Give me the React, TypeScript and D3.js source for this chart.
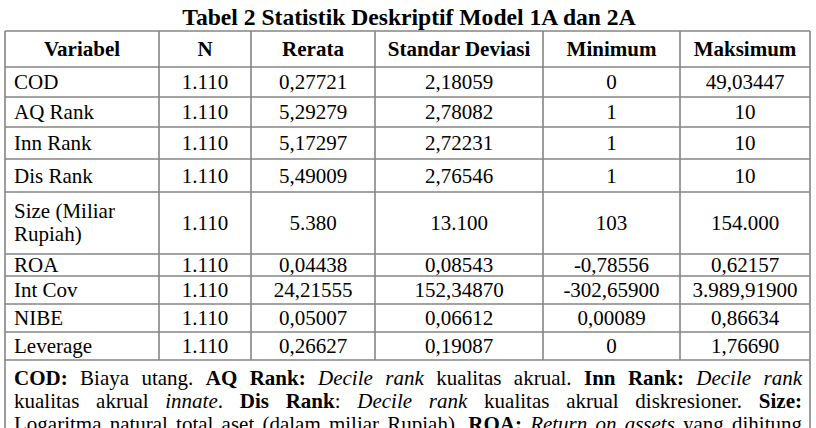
import React, { useEffect, useRef } from "react";
import * as d3 from "d3";

const title = "Tabel 2 Statistik Deskriptif Model 1A dan 2A";
const headers = ["Variabel", "N", "Rerata", "Standar Deviasi", "Minimum", "Maksimum"];
const variables = [["COD"], ["AQ Rank"], ["Inn Rank"], ["Dis Rank"], ["Size (Miliar", "Rupiah)"], ["ROA"], ["Int Cov"], ["NIBE"], ["Leverage"]];
const nValues = ["1.110", "1.110", "1.110", "1.110", "1.110", "1.110", "1.110", "1.110", "1.110"];
const means = ["0,27721", "5,29279", "5,17297", "5,49009", "5.380", "0,04438", "24,21555", "0,05007", "0,26627"];
const sds = ["2,18059", "2,78082", "2,72231", "2,76546", "13.100", "0,08543", "152,34870", "0,06612", "0,19087"];
const mins = ["0", "1", "1", "1", "103", "-0,78556", "-302,65900", "0,00089", "0"];
const maxs = ["49,03447", "10", "10", "10", "154.000", "0,62157", "3.989,91900", "0,86634", "1,76690"];

type Run = { t: string; s?: "b" | "i" };
const noteLines: Run[][][] = [
  [[{ t: "COD:", s: "b" }], [{ t: "Biaya" }], [{ t: "utang." }], [{ t: "AQ", s: "b" }], [{ t: "Rank:", s: "b" }], [{ t: "Decile", s: "i" }], [{ t: "rank", s: "i" }], [{ t: "kualitas" }], [{ t: "akrual." }], [{ t: "Inn", s: "b" }], [{ t: "Rank:", s: "b" }], [{ t: "Decile", s: "i" }], [{ t: "rank", s: "i" }]],
  [[{ t: "kualitas" }], [{ t: "akrual" }], [{ t: "innate", s: "i" }, { t: "." }], [{ t: "Dis", s: "b" }], [{ t: "Rank", s: "b" }, { t: ":" }], [{ t: "Decile", s: "i" }], [{ t: "rank", s: "i" }], [{ t: "kualitas" }], [{ t: "akrual" }], [{ t: "diskresioner." }], [{ t: "Size:", s: "b" }]],
  [[{ t: "Logaritma" }], [{ t: "natural" }], [{ t: "total" }], [{ t: "aset" }], [{ t: "(dalam" }], [{ t: "miliar" }], [{ t: "Rupiah)." }], [{ t: "ROA:", s: "b" }], [{ t: "Return", s: "i" }], [{ t: "on", s: "i" }], [{ t: "assets", s: "i" }], [{ t: "yang" }], [{ t: "dihitung" }]],
];

const W = 816;
const H = 428;
const FONT = "'Liberation Serif', 'Times New Roman', serif";
const colEdges = [5, 159, 251, 375, 543, 680, 810];
const rowEdges = [31, 67, 97, 127, 159, 192, 254, 276, 304, 332, 360];
const LINE = "#858585";

export default function App() {
  const ref = useRef<SVGSVGElement>(null);
  useEffect(() => {
    const svg = d3.select(ref.current);
    svg.selectAll("*").remove();
    svg.append("rect").attr("width", W).attr("height", H).attr("fill", "#fff");

    svg.append("text").attr("x", 409).attr("y", 25).attr("text-anchor", "middle")
      .attr("font-family", FONT).attr("font-weight", "bold").attr("font-size", 23.6).text(title);

    const g = svg.append("g");
    g.selectAll("line.h").data(rowEdges).join("line")
      .attr("x1", colEdges[0]).attr("x2", colEdges[colEdges.length - 1])
      .attr("y1", (d) => d).attr("y2", (d) => d)
      .attr("stroke", LINE).attr("stroke-width", 1.6);
    g.selectAll("line.v").data(colEdges.slice(1, -1)).join("line")
      .attr("x1", (d) => d).attr("x2", (d) => d)
      .attr("y1", rowEdges[0]).attr("y2", rowEdges[rowEdges.length - 1])
      .attr("stroke", LINE).attr("stroke-width", 1.6);
    [colEdges[0], colEdges[colEdges.length - 1]].forEach((x) => {
      g.append("line").attr("x1", x).attr("x2", x).attr("y1", rowEdges[0]).attr("y2", H + 5)
        .attr("stroke", LINE).attr("stroke-width", 1.6);
    });

    const txt = svg.append("g").attr("font-family", FONT).attr("font-size", 21).attr("fill", "#000");
    const mid = (i: number) => (colEdges[i] + colEdges[i + 1]) / 2;
    headers.forEach((h, i) => {
      txt.append("text").attr("x", mid(i)).attr("y", (rowEdges[0] + rowEdges[1]) / 2 + 7)
        .attr("text-anchor", "middle").attr("font-weight", "bold").text(h);
    });
    const cols = [nValues, means, sds, mins, maxs];
    variables.forEach((v, r) => {
      const top = rowEdges[r + 1];
      const bot = rowEdges[r + 2];
      const ym = (top + bot) / 2;
      const base = ym + 7;
      if (v.length === 1) {
        txt.append("text").attr("x", 14).attr("y", base).text(v[0]);
      } else {
        v.forEach((line, k) => {
          txt.append("text").attr("x", 14).attr("y", ym - 5 + k * 23).text(line);
        });
      }
      cols.forEach((c, ci) => {
        txt.append("text").attr("x", mid(ci + 1)).attr("y", base).attr("text-anchor", "middle").text(c[r]);
      });
    });

    const left = 14;
    const right = 802;
    noteLines.forEach((words, li) => {
      const y = 385 + li * 23;
      const nodes = words.map((runs) => {
        const t = txt.append("text").attr("y", y);
        runs.forEach((r) => {
          t.append("tspan")
            .attr("font-weight", r.s === "b" ? "bold" : "normal")
            .attr("font-style", r.s === "i" ? "italic" : "normal")
            .text(r.t);
        });
        return t;
      });
      const widths = nodes.map((n) => (n.node() as SVGTextElement).getComputedTextLength());
      const total = d3.sum(widths);
      const gap = (right - left - total) / (words.length - 1);
      let x = left;
      nodes.forEach((n, k) => {
        n.attr("x", x);
        x += widths[k] + gap;
      });
    });
  }, []);
  return (
    <svg ref={ref} width={W} height={H} style={{ position: "absolute", left: 0, top: 0 }} />
  );
}
